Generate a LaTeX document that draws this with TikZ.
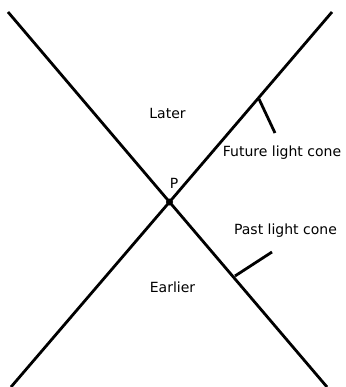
\documentclass[tikz,border=0pt]{standalone}
\usepackage{fontspec}
\setmainfont{DejaVu Sans}
\usetikzlibrary{positioning}

\begin{document}
\begin{tikzpicture}[
  x=1pt, y=-1pt,
  cone/.style={line width=2.8pt},
  pointer/.style={line width=2.8pt},
  label/.style={font=\fontsize{14}{16}\selectfont, anchor=base, inner sep=0pt},
  event/.style={circle, fill=black, minimum size=7pt, inner sep=0pt}
]
\useasboundingbox (0,0) rectangle (345,387);

% ends of the two cone lines
\coordinate (tl) at (8,12);
\coordinate (tr) at (332,12);
\coordinate (bl) at (11,387);
\coordinate (br) at (327,387);
\node[event] (p) at (169.5,202) {};

\draw[cone] (tl) -- (p.center) -- (br);
\draw[cone] (tr) -- (p.center) -- (bl);

% pointers to the cones
\coordinate (fut) at (259,99);
\coordinate (futend) at (275,133);
\coordinate (pst) at (235,276);
\coordinate (pstend) at (272,252);
\draw[pointer] (fut) -- (futend);
\draw[pointer] (pst) -- (pstend);

\node[label] (later)   at (167.5,119) {Later};
\node[label] (earlier) at (172.5,292) {Earlier};
\node[label] (pname)   at (174,188)   {P};
\node[label] (futlbl)  at (282,157)   {Future light cone};
\node[label] (pstlbl)  at (285.5,234) {Past light cone};
\end{tikzpicture}
\end{document}
